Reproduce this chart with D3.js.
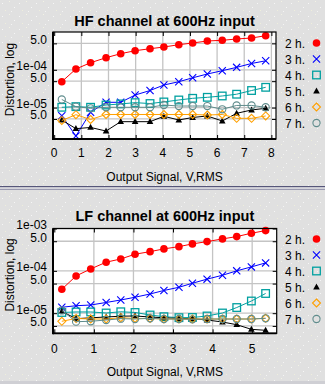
<!DOCTYPE html>
<html><head><meta charset="utf-8">
<script src="https://cdn.jsdelivr.net/npm/d3@7/dist/d3.min.js"></script>
<style>
html,body{margin:0;padding:0;background:#e0e0e0;}
svg{display:block;font-family:"Liberation Sans",Arial,sans-serif;}
</style></head>
<body>
<svg id="c" width="325" height="384"></svg>
<script>
// ---------- DATA ----------
const harmonicLabels = ["2 h.", "3 h.", "4 h.", "5 h.", "6 h.", "7 h."];

const hfTitle = "HF channel at 600Hz input";
const hfX  = [0.28, 0.80, 1.34, 1.91, 2.45, 2.98, 3.53, 4.04, 4.59, 5.10, 5.64, 6.19, 6.72, 7.27, 7.79];
const hfH2 = [4.84e-5, 1.05e-4, 1.54e-4, 2.09e-4, 2.67e-4, 3.20e-4, 3.61e-4, 4.01e-4, 4.61e-4, 5.12e-4, 5.78e-4, 6.03e-4, 6.53e-4, 6.94e-4, 7.98e-4];
const hfH3 = [6.1e-6, 1.77e-6, 7.5e-6, 1.38e-5, 1.38e-5, 2.15e-5, 2.83e-5, 3.96e-5, 4.84e-5, 6.14e-5, 7.74e-5, 9.47e-5, 1.16e-4, 1.47e-4, 1.73e-4];
const hfH4 = [1.02e-5, 1.06e-5, 1.02e-5, 1.17e-5, 1.25e-5, 1.35e-5, 1.28e-5, 1.41e-5, 1.59e-5, 1.76e-5, 1.87e-5, 2.03e-5, 2.26e-5, 2.83e-5, 3.44e-5];
const hfH5 = [4.7e-6, 2.77e-6, 2.98e-6, 2.40e-6, 4.24e-6, 4.24e-6, 4.24e-6, 5.89e-6, 4.7e-6, 5.47e-6, 6.0e-6, 4.42e-6, 7.06e-6, 8.64e-6, 9.58e-6];
const hfH6 = [4.56e-6, 6.49e-6, 4.84e-6, 6.57e-6, 6.57e-6, 6.57e-6, 6.57e-6, 6.57e-6, 6.57e-6, 6.57e-6, 6.37e-6, 6.57e-6, 5.21e-6, 5.21e-6, 6.0e-6];
const hfH7 = [1.64e-5, 1.06e-5, 9.58e-6, 1.02e-5, 1.02e-5, 1.02e-5, 1.02e-5, 1.17e-5, 1.10e-5, 1.10e-5, 1.10e-5, 9.02e-6, 1.14e-5, 1.14e-5, 1.02e-5];
const hfXTicks = [0, 1, 2, 3, 4, 5, 6, 7, 8];
const hfYTicks = [5e-4, 1e-4, 5e-5, 1e-5, 5e-6];
const hfYTickLabels = ["5.0", "1e-04", "5.0", "1e-05", "5.0"];

const lfTitle = "LF channel at 600Hz input";
const lfX  = [0.19, 0.55, 0.92, 1.31, 1.68, 2.04, 2.42, 2.77, 3.15, 3.49, 3.86, 4.25, 4.61, 4.98, 5.34];
const lfH2 = [3.67e-5, 7.57e-5, 1.11e-4, 1.60e-4, 1.91e-4, 2.47e-4, 2.84e-4, 3.30e-4, 3.73e-4, 4.33e-4, 4.90e-4, 5.68e-4, 6.44e-4, 7.74e-4, 8.92e-4];
const lfH3 = [1.38e-5, 1.50e-5, 1.56e-5, 1.79e-5, 2.05e-5, 2.38e-5, 2.84e-5, 3.44e-5, 4.09e-5, 5.09e-5, 6.37e-5, 7.87e-5, 1.0e-4, 1.24e-4, 1.54e-4];
const lfH4 = [1.04e-5, 1.07e-5, 1.07e-5, 1.01e-5, 1.08e-5, 1.04e-5, 9.06e-6, 8.27e-6, 7.83e-6, 7.91e-6, 8.59e-6, 1.01e-5, 1.36e-5, 1.94e-5, 2.92e-5];
const lfH5 = [1.10e-5, 7.41e-6, 7.78e-6, 8.13e-6, 8.49e-6, 8.59e-6, 8.13e-6, 7.78e-6, 7.50e-6, 7.41e-6, 6.90e-6, 6.19e-6, 5.35e-6, 4.16e-6, 3.94e-6];
const lfH6 = [6.44e-6, 7.50e-6, 7.29e-6, 7.29e-6, 7.83e-6, 7.50e-6, 7.50e-6, 7.29e-6, 7.29e-6, 7.29e-6, 7.29e-6, 7.29e-6, 7.29e-6, 7.29e-6, 7.57e-6];
const lfH7 = [1.16e-5, 6.30e-6, 6.44e-6, 6.90e-6, 7.41e-6, 7.29e-6, 7.57e-6, 7.29e-6, 7.29e-6, 7.15e-6, 7.29e-6, 7.29e-6, 7.29e-6, 7.29e-6, 7.57e-6];
const lfXTicks = [0, 1, 2, 3, 4, 5];
const lfYTicks = [1e-3, 5e-4, 1e-4, 5e-5, 1e-5, 5e-6];
const lfYTickLabels = ["1e-03", "5.0", "1e-04", "5.0", "1e-05", "5.0"];

const xAxisTitle = "Output Signal, V,RMS";
const yAxisTitle = "Distortion, log";

// ---------- STYLE ----------
const styles = [
  {color: "#ff0000", marker: "dot"},
  {color: "#0000ff", marker: "x"},
  {color: "#00a0a0", marker: "square"},
  {color: "#000000", marker: "tri"},
  {color: "#ffa000", marker: "diamond"},
  {color: "#5f8c8c", marker: "circle"}
];

const svg = d3.select("#c");
const defs = svg.append("defs");
const pat = defs.append("pattern").attr("id", "speck").attr("patternUnits", "userSpaceOnUse")
  .attr("width", 17).attr("height", 13);
pat.append("rect").attr("width", 17).attr("height", 13).attr("fill", "#e0e0e0");
[[2,3,"#f6f6f6"],[9,1,"#f2f2e4"],[14,7,"#f6f6f6"],[5,10,"#eeeedc"],[11,11,"#f4f4f4"]].forEach(p=>{
  pat.append("rect").attr("x", p[0]).attr("y", p[1]).attr("width", 1).attr("height", 1).attr("fill", p[2]);
});
svg.append("rect").attr("width", 325).attr("height", 384).attr("fill", "url(#speck)");

// separator between panels
svg.append("rect").attr("x", 0).attr("y", 186).attr("width", 325).attr("height", 1.5).attr("fill", "#56567a");
svg.append("rect").attr("x", 0).attr("y", 187.5).attr("width", 325).attr("height", 1.2).attr("fill", "#f4f4f4");
svg.append("rect").attr("x", 0).attr("y", 188.7).attr("width", 325).attr("height", 1.3).attr("fill", "#9a9ab0");
svg.append("rect").attr("x", 0).attr("y", 381).attr("width", 325).attr("height", 3).attr("fill", "#cfcfd4");

function drawMarker(g, type, color, x, y) {
  const s = 3.6;
  if (type === "dot") {
    g.append("circle").attr("cx", x).attr("cy", y).attr("r", 3.8).attr("fill", color);
  } else if (type === "x") {
    g.append("path").attr("d", `M${x-s},${y-s}L${x+s},${y+s}M${x-s},${y+s}L${x+s},${y-s}`)
      .attr("stroke", color).attr("stroke-width", 1.1).attr("fill", "none");
  } else if (type === "square") {
    g.append("rect").attr("x", x-3.8).attr("y", y-3.8).attr("width", 7.6).attr("height", 7.6)
      .attr("fill", "#fff").attr("fill-opacity", 0).attr("stroke", color).attr("stroke-width", 1.3);
  } else if (type === "tri") {
    g.append("path").attr("d", `M${x},${y-3.6}L${x+3.3},${y+2.4}L${x-3.3},${y+2.4}Z`).attr("fill", color);
  } else if (type === "diamond") {
    g.append("path").attr("d", `M${x},${y-4}L${x+4},${y}L${x},${y+4}L${x-4},${y}Z`)
      .attr("fill", "none").attr("stroke", color).attr("stroke-width", 1.1);
  } else if (type === "circle") {
    g.append("circle").attr("cx", x).attr("cy", y).attr("r", 3.6)
      .attr("fill", "none").attr("stroke", color).attr("stroke-width", 1.1);
  }
}

function drawChart(cfg) {
  const g = svg.append("g");
  const x = d3.scaleLinear().domain(cfg.xDomain).range([cfg.left, cfg.right]);
  const y = d3.scaleLog().domain(cfg.yDomain).range([cfg.bottom, cfg.top]);
  const W = cfg.right - cfg.left, H = cfg.bottom - cfg.top;

  g.append("rect").attr("x", cfg.left).attr("y", cfg.top).attr("width", W).attr("height", H).attr("fill", "#fff");

  // grid
  g.append("g").selectAll("line").data(cfg.xTicks.filter(d => d > 0)).join("line")
    .attr("x1", d => x(d)).attr("x2", d => x(d)).attr("y1", cfg.top).attr("y2", cfg.bottom)
    .attr("stroke", "#c4c4c4").attr("stroke-width", 1.3);
  g.append("g").selectAll("line").data(cfg.yTicks).join("line")
    .attr("x1", cfg.left).attr("x2", cfg.right).attr("y1", d => y(d)).attr("y2", d => y(d))
    .attr("stroke", "#c4c4c4").attr("stroke-width", 1.3);

  // axes with inward ticks (all four sides)
  const tl = 4;
  g.append("g").attr("transform", `translate(${cfg.left},0)`)
    .call(d3.axisRight(y).tickValues(cfg.yTicks).tickSize(tl).tickFormat(""))
    .call(a => a.select(".domain").remove());
  g.append("g").attr("transform", `translate(${cfg.right},0)`)
    .call(d3.axisLeft(y).tickValues(cfg.yTicks).tickSize(tl).tickFormat(""))
    .call(a => a.select(".domain").remove());
  g.append("g").attr("transform", `translate(0,${cfg.bottom})`)
    .call(d3.axisTop(x).tickValues(cfg.xTicks).tickSize(tl).tickFormat(""))
    .call(a => a.select(".domain").remove());
  g.append("g").attr("transform", `translate(0,${cfg.top})`)
    .call(d3.axisBottom(x).tickValues(cfg.xTicks).tickSize(tl).tickFormat(""))
    .call(a => a.select(".domain").remove());

  // tick labels
  g.append("g").selectAll("text").data(cfg.yTicks).join("text")
    .attr("x", 47).attr("y", d => y(d) + 0.5).attr("text-anchor", "end")
    .attr("font-size", 12).attr("fill", "#000").text((d, i) => cfg.yLabels[i]);
  g.append("g").selectAll("text").data(cfg.xTicks).join("text")
    .attr("x", d => x(d)).attr("y", cfg.bottom + cfg.xLabelOff).attr("text-anchor", "middle")
    .attr("font-size", 12).attr("fill", "#000").text(d => d);

  // series
  const line = d3.line().x(d => x(d[0])).y(d => y(d[1]));
  cfg.series.forEach((vals, si) => {
    const st = styles[si];
    const pts = cfg.xs.map((xv, i) => [xv, vals[i]]);
    const sg = g.append("g");
    sg.append("path").attr("d", line(pts)).attr("fill", "none").attr("stroke", st.color).attr("stroke-width", 1);
    pts.forEach(p => drawMarker(sg, st.marker, st.color, x(p[0]), y(p[1])));
  });

  // frame
  g.append("rect").attr("x", cfg.left).attr("y", cfg.top).attr("width", W).attr("height", H)
    .attr("fill", "none").attr("stroke", "#000").attr("stroke-width", 1.2);
  g.append("line").attr("x1", cfg.left).attr("x2", cfg.left).attr("y1", cfg.top).attr("y2", cfg.bottom + 1)
    .attr("stroke", "#000").attr("stroke-width", 2);
  g.append("line").attr("x1", cfg.left).attr("x2", cfg.right).attr("y1", cfg.bottom).attr("y2", cfg.bottom)
    .attr("stroke", "#000").attr("stroke-width", 1.8);

  // titles
  g.append("text").attr("x", (cfg.left + cfg.right) / 2).attr("y", cfg.titleY).attr("text-anchor", "middle")
    .attr("font-size", 14.5).attr("font-weight", "bold").attr("fill", "#000").text(cfg.title);
  g.append("text").attr("x", (cfg.left + cfg.right) / 2).attr("y", cfg.xTitleY).attr("text-anchor", "middle")
    .attr("font-size", 12).attr("fill", "#000").text(xAxisTitle);
  g.append("text").attr("transform", `translate(13.5,${(cfg.top + cfg.bottom) / 2 - 6}) rotate(-90)`)
    .attr("text-anchor", "middle").attr("font-size", 12).attr("fill", "#000").text(yAxisTitle);

  // legend
  harmonicLabels.forEach((lab, i) => {
    const ly = cfg.legendY + i * 16;
    g.append("text").attr("x", 285).attr("y", ly + 4.5).attr("font-size", 12).attr("fill", "#000").text(lab);
    drawMarker(g, styles[i].marker, styles[i].color, 316.5, ly);
  });
}

drawChart({
  title: hfTitle, xs: hfX, series: [hfH2, hfH3, hfH4, hfH5, hfH6, hfH7],
  xDomain: [-0.044, 8.17], yDomain: [1.476e-6, 1e-3],
  left: 53, right: 276, top: 32, bottom: 139,
  xTicks: hfXTicks, yTicks: hfYTicks, yLabels: hfYTickLabels,
  xLabelOff: 18, titleY: 26, xTitleY: 181, legendY: 43
});
drawChart({
  title: lfTitle, xs: lfX, series: [lfH2, lfH3, lfH4, lfH5, lfH6, lfH7],
  xDomain: [-0.033, 5.62], yDomain: [3.35e-6, 1e-3],
  left: 53, right: 276.7, top: 228.5, bottom: 333.3,
  xTicks: lfXTicks, yTicks: lfYTicks, yLabels: lfYTickLabels,
  xLabelOff: 20, titleY: 220.5, xTitleY: 376, legendY: 239
});
</script>
</body></html>
